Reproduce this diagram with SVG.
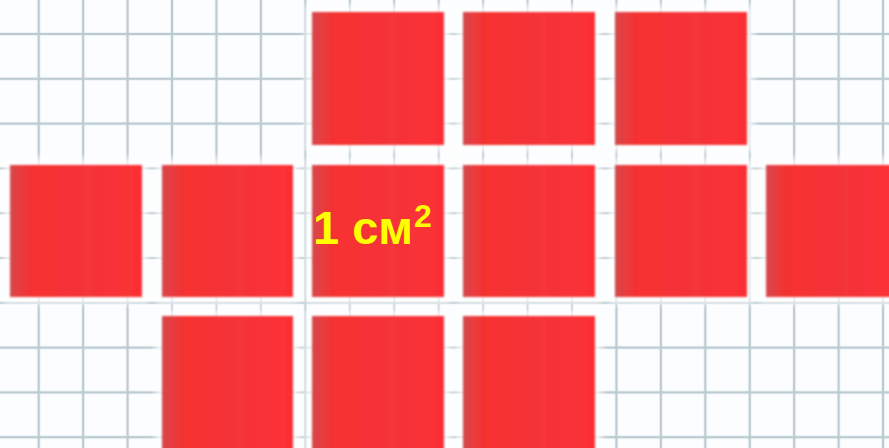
<svg xmlns="http://www.w3.org/2000/svg" width="889" height="448" viewBox="0 0 889 448">
<defs>
<linearGradient id="sq" x1="0" y1="0" x2="1" y2="0">
<stop offset="0" stop-color="#d0494c"/>
<stop offset="0.06" stop-color="#e63e42"/>
<stop offset="0.18" stop-color="#f6302f"/>
<stop offset="0.6" stop-color="#f4343a"/>
<stop offset="1" stop-color="#fc2f34"/>
</linearGradient>
<filter id="soft" x="-5%" y="-5%" width="110%" height="110%"><feGaussianBlur stdDeviation="1.3"/></filter>
<filter id="halo" x="-10%" y="-10%" width="120%" height="120%"><feGaussianBlur stdDeviation="3"/></filter>
<pattern id="grid" x="38.7" y="34" width="44.44" height="44.8" patternUnits="userSpaceOnUse">
<rect x="-1.2" y="0" width="2.4" height="44.8" fill="#bccbd2"/>
<rect x="0" y="-1.2" width="44.44" height="2.4" fill="#bccbd2"/>
<rect x="43.24" y="0" width="2.4" height="44.8" fill="#bccbd2"/>
<rect x="0" y="43.6" width="44.44" height="2.4" fill="#bccbd2"/>
</pattern>
<style>
.s{fill:url(#sq);filter:url(#soft)}
.h{fill:#ffffff;opacity:0.75;filter:url(#halo)}
.t{font-family:"Liberation Sans",Arial,sans-serif;font-weight:bold;fill:#ffff00}
</style>
</defs>
<rect width="889" height="448" fill="#fbfdfe"/>
<rect width="889" height="448" fill="url(#grid)"/>
<g id="halos">
<rect class="h" x="305" y="5" width="146" height="147"/>
<rect class="h" x="456" y="5" width="146" height="147"/>
<rect class="h" x="608" y="5" width="146" height="147"/>
<rect class="h" x="3" y="158" width="146" height="146"/>
<rect class="h" x="155" y="158" width="145" height="146"/>
<rect class="h" x="305" y="158" width="146" height="146"/>
<rect class="h" x="456" y="158" width="146" height="146"/>
<rect class="h" x="608" y="158" width="146" height="146"/>
<rect class="h" x="759" y="158" width="146" height="146"/>
<rect class="h" x="155" y="309" width="145" height="150"/>
<rect class="h" x="305" y="309" width="146" height="150"/>
<rect class="h" x="456" y="309" width="146" height="150"/>
</g>
<g id="squares">
<g id="r1c3"><rect class="s" x="312" y="12" width="132" height="133"/></g>
<g id="r1c4"><rect class="s" x="463" y="12" width="132" height="133"/></g>
<g id="r1c5"><rect class="s" x="615" y="12" width="132" height="133"/></g>
<g id="r2c1"><rect class="s" x="10" y="165" width="132" height="132"/></g>
<g id="r2c2"><rect class="s" x="162" y="165" width="131" height="132"/></g>
<g id="r2c3"><rect class="s" x="312" y="165" width="132" height="132"/></g>
<g id="r2c4"><rect class="s" x="463" y="165" width="132" height="132"/></g>
<g id="r2c5"><rect class="s" x="615" y="165" width="132" height="132"/></g>
<g id="r2c6"><rect class="s" x="766" y="165" width="132" height="132"/></g>
<g id="r3c2"><rect class="s" x="162" y="316" width="131" height="140"/></g>
<g id="r3c3"><rect class="s" x="312" y="316" width="132" height="140"/></g>
<g id="r3c4"><rect class="s" x="463" y="316" width="132" height="140"/></g>
</g>
<g id="label">
<text class="t" x="313" y="244" font-size="47">1 см</text>
<text class="t" x="414" y="227" font-size="32">2</text>
</g>
</svg>
